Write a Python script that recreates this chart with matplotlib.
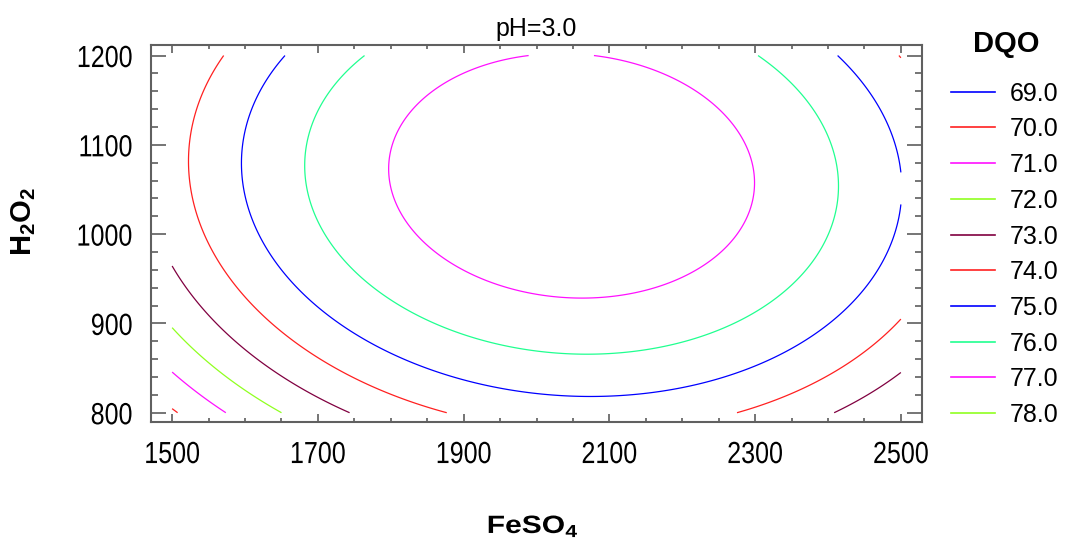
import numpy as np
import matplotlib
matplotlib.use("Agg")
import matplotlib.pyplot as plt
from matplotlib.lines import Line2D
from matplotlib.ticker import MultipleLocator
from matplotlib.patheffects import AbstractPathEffect
from matplotlib.transforms import Affine2D

# Estimated response surface for DQO at pH=3.0, coded units:
# u = (FeSO4 - 2000) / 500, v = (H2O2 - 1000) / 200
# DQO = b0 + b1*u + b2*v + b11*u^2 + b22*v^2 + b12*u*v
FESO4_CENTER, FESO4_HALF = 2000, 500
H2O2_CENTER, H2O2_HALF = 1000, 200
COEF = [77.642, 0.776, 1.267, -3.527, -1.897, -0.296]

FESO4_RANGE = [1500, 2500]
H2O2_RANGE = [800, 1200]

LEVELS = [69.0, 70.0, 71.0, 72.0, 73.0, 74.0, 75.0, 76.0, 77.0, 78.0]
COLORS = ["#0000ff", "#ff2020", "#ff10ff", "#90ff20", "#800040",
          "#ff2020", "#0000ff", "#20ff90", "#ff10ff", "#90ff20"]

X_TICKS = [1500, 1700, 1900, 2100, 2300, 2500]
Y_TICKS = [800, 900, 1000, 1100, 1200]

W, H = 1067, 543
FONT = "Liberation Sans"


class Squeeze(AbstractPathEffect):
    # scales glyph outlines horizontally (narrow / wide lettering)
    def __init__(self, sx, anchor="center"):
        super().__init__()
        self.sx = sx
        self.anchor = anchor

    def draw_path(self, renderer, gc, tpath, affine, rgbFace=None):
        ext = tpath.get_extents()
        x0 = ext.x1 if self.anchor == "right" else (ext.x0 + ext.x1) / 2
        t = Affine2D().translate(-x0, 0).scale(self.sx, 1).translate(x0, 0) + affine
        renderer.draw_path(gc, tpath, t, rgbFace)


def dqo(feso4, h2o2):
    u = (feso4 - FESO4_CENTER) / FESO4_HALF
    v = (h2o2 - H2O2_CENTER) / H2O2_HALF
    b0, b1, b2, b11, b22, b12 = COEF
    return b0 + b1 * u + b2 * v + b11 * u**2 + b22 * v**2 + b12 * u * v


plt.rcParams["font.family"] = [FONT, "DejaVu Sans"]

fig = plt.figure(figsize=(W / 100, H / 100), dpi=100)
ax = fig.add_axes([151 / W, 1 - 422 / H, 771 / W, 377 / H])

x = np.linspace(*FESO4_RANGE, 400)
y = np.linspace(*H2O2_RANGE, 400)
X, Y = np.meshgrid(x, y)
ax.contour(X, Y, dqo(X, Y), levels=LEVELS, colors=COLORS, linewidths=0.9)

ax.set_xlim(1471, 2529)
ax.set_ylim(789.6, 1211.8)
ax.set_xticks(X_TICKS)
ax.set_yticks(Y_TICKS)
ax.xaxis.set_minor_locator(MultipleLocator(50))
ax.yaxis.set_minor_locator(MultipleLocator(20))

for s in ax.spines.values():
    s.set_color("#606060")
    s.set_linewidth(1.5)
ax.tick_params(which="both", direction="in", top=True, right=True,
               color="#505050", width=1.1, labelsize=22, pad=13)
ax.tick_params(axis="y", which="major", length=10.8)
ax.tick_params(axis="y", which="minor", length=5)
ax.tick_params(axis="x", which="major", length=5.8)
ax.tick_params(axis="x", which="minor", length=2.9)
for lbl in ax.get_xticklabels():
    lbl.set_path_effects([Squeeze(0.82)])
for lbl in ax.get_yticklabels():
    lbl.set_path_effects([Squeeze(0.82, "right")])

ax.set_title("pH=3.0", fontsize=18, pad=6.5)

ax.set_xlabel(r"FeSO$_\mathregular{4}$", fontsize=18, fontweight="bold")
ax.xaxis.set_label_coords((533 - 151) / 771, (422 - 513) / 377)
ax.xaxis.label.set_path_effects([Squeeze(1.2)])

ax.set_ylabel(r"H$_\mathregular{2}$O$_\mathregular{2}$", fontsize=21, fontweight="bold")
ax.yaxis.set_label_coords((38 - 151) / 771, (422 - 222) / 377)

# legend for the contour levels
fig.text(1006 / W, 1 - 51.5 / H, "DQO", fontsize=21, fontweight="bold",
         ha="center", va="baseline")
for i, (lev, col) in enumerate(zip(LEVELS, COLORS)):
    yy = 1 - (91.7 + 35.7 * i) / H
    fig.add_artist(Line2D([951 / W, 995 / W], [yy, yy], color=col, lw=1.2))
    fig.text(1010 / W, yy - 2 / H, f"{lev:.1f}", fontsize=18, va="center")

fig.savefig("out.png")
